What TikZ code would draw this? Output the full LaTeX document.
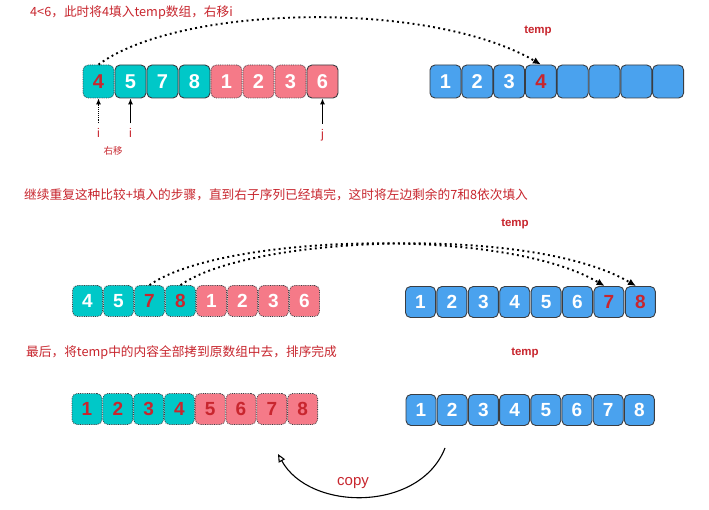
\documentclass[tikz,border=0pt]{standalone}
\usepackage{fontspec}
\setmainfont{Liberation Sans}
\newfontfamily\cjk{Noto Sans CJK SC}
\usepackage{tikz}
\usetikzlibrary{arrows.meta}
\definecolor{cellteal}{HTML}{00C8C8}
\definecolor{cellpink}{HTML}{F57A88}
\definecolor{cellblue}{HTML}{4AA2EE}
\definecolor{edgegray}{HTML}{3A3D42}
\definecolor{textred}{HTML}{C8262E}

\begin{document}
\begin{tikzpicture}[x=1pt,y=-1pt,
		cell/.style={rounded corners=5pt, inner sep=0pt, minimum width=31pt, minimum height=33pt, font=\fontsize{20}{20}\selectfont\bfseries},
		small/.style={minimum width=30pt, minimum height=31pt, font=\fontsize{19}{19}\selectfont\bfseries},
		solidcell/.style={draw=edgegray, line width=0.9pt},
		dotcell/.style={draw=edgegray, line width=0.8pt, densely dotted},
		note/.style={text=textred, anchor=west, inner sep=0pt, font=\cjk\fontsize{12.7}{14}\selectfont},
		templbl/.style={text=textred, font=\fontsize{11.5}{12}\selectfont\bfseries},
		ptrlbl/.style={text=textred, inner sep=1pt, font=\fontsize{12.5}{13}\selectfont},
		ptr/.style={-{Latex[length=6pt,width=5pt]}, line width=0.9pt, shorten <=4pt},
		hop/.style={-{Latex[length=8pt,width=7pt]}, line width=1.9pt, dash pattern=on 1.9pt off 3.3pt}
	]
		\path[use as bounding box, fill=white] (0,0) rectangle (709,510);

		\node[note] (n1) at (30,13) {4<6，此时将4填入temp数组，右移i};
		\node[note] (n2) at (24,195) {继续重复这种比较+填入的步骤，直到右子序列已经填完，这时将左边剩余的7和8依次填入};
		\node[note] (n3) at (26,353) {最后，将temp中的内容全部拷到原数组中去，排序完成};
		\node[templbl] (tmp1) at (538,31) {temp};
		\node[templbl] (tmp2) at (515,224) {temp};
		\node[templbl] (tmp3) at (525,353) {temp};

		\foreach \i/\v/\f/\b/\c in {1/4/cellteal/dotcell/textred, 2/5/cellteal/solidcell/white, 3/7/cellteal/solidcell/white, 4/8/cellteal/solidcell/white,
				5/1/cellpink/dotcell/white, 6/2/cellpink/dotcell/white, 7/3/cellpink/dotcell/white, 8/6/cellpink/solidcell/white}
			\node[cell, \b, fill=\f, text=\c] (s1c\i) at ({98.5+32*(\i-1)},81.5) {\v};
		\foreach \i/\v/\c in {1/1/white, 2/2/white, 3/3/white, 4/4/textred, 5//white, 6//white, 7//white, 8//white}
			\node[cell, solidcell, fill=cellblue, text=\c] (t1c\i) at ({445.5+31.8*(\i-1)},81.5) {\v};

		\node[ptrlbl] (pi1) at (98.5,133) {i};
		\node[ptrlbl] (pi2) at (130.5,133) {i};
		\node[ptrlbl] (pj) at (322.5,135) {j};
		\node[ptrlbl, font=\cjk\fontsize{9.5}{10}\selectfont] (mv) at (113,151) {右移};
		\draw[ptr, densely dotted] (pi1) -- (s1c1);
		\draw[ptr] (pi2) -- (s1c2);
		\draw[ptr] (pj) -- (s1c8);
		\draw[hop] (s1c1.north) .. controls +(81,-60) and +(-111,-65) .. (t1c4.north);

		\foreach \i/\v/\f/\c in {1/4/cellteal/white, 2/5/cellteal/white, 3/7/cellteal/textred, 4/8/cellteal/textred,
				5/1/cellpink/white, 6/2/cellpink/white, 7/3/cellpink/white, 8/6/cellpink/white}
			\node[cell, small, dotcell, fill=\f, text=\c] (s2c\i) at ({87.5+31*(\i-1)},301) {\v};
		\foreach \i/\c in {1/white, 2/white, 3/white, 4/white, 5/white, 6/white, 7/textred, 8/textred}
			\node[cell, small, solidcell, fill=cellblue, text=\c] (t2c\i) at ({420.5+31.4*(\i-1)},302) {\i};
		\draw[hop] (s2c3.north) .. controls +(70,-50) and +(-103,-61) .. (t2c7.105);
		\draw[hop] (s2c4.north) .. controls +(70,-50) and +(-103,-61) .. (t2c8.105);

		\foreach \i/\f in {1/cellteal, 2/cellteal, 3/cellteal, 4/cellteal, 5/cellpink, 6/cellpink, 7/cellpink, 8/cellpink}
			\node[cell, small, dotcell, fill=\f, text=textred] (s3c\i) at ({87+30.8*(\i-1)},409) {\i};
		\foreach \i in {1,...,8}
			\node[cell, small, solidcell, fill=cellblue, text=white] (t3c\i) at ({421+31.2*(\i-1)},410) {\i};

		\coordinate (cpfrom) at (445,448);
		\coordinate (cpto) at (278,454);
		\node[text=textred, font=\fontsize{15}{15}\selectfont] (cp) at (353,483) {copy};
		\draw[-{Triangle[open,length=8pt,width=7pt]}, line width=1.1pt] (cpfrom) .. controls (420,512) and (310,512) .. (cpto);
	\end{tikzpicture}
\end{document}
